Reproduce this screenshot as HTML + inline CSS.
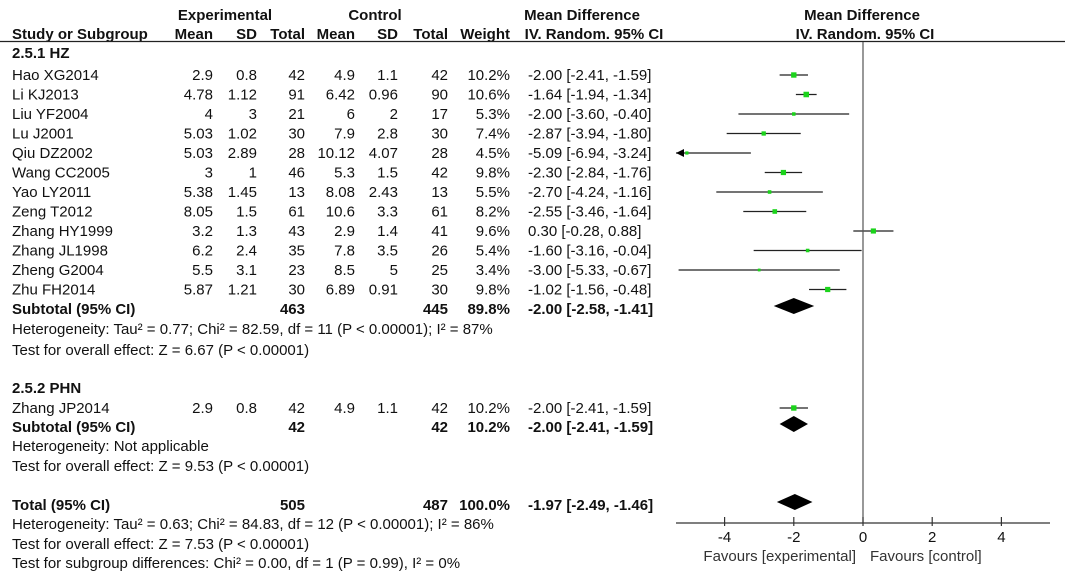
<!DOCTYPE html>
<html><head><meta charset="utf-8"><style>
html,body{margin:0;padding:0;background:#fff;}
svg{display:block;font-family:"Liberation Sans",Arial,sans-serif;font-size:15px;fill:#111;}
.b{font-weight:bold;}
</style></head><body>
<svg id="fp" width="1065" height="573" viewBox="0 0 1065 573">
<g id="hdr">
<text x="225" y="20" text-anchor="middle" class="b">Experimental</text>
<text x="375" y="20" text-anchor="middle" class="b">Control</text>
<text x="582" y="20" text-anchor="middle" class="b">Mean Difference</text>
<text x="862" y="20" text-anchor="middle" class="b">Mean Difference</text>
<text x="12" y="39" class="b">Study or Subgroup</text>
<text x="213" y="39" text-anchor="end" class="b">Mean</text>
<text x="257" y="39" text-anchor="end" class="b">SD</text>
<text x="305" y="39" text-anchor="end" class="b">Total</text>
<text x="355" y="39" text-anchor="end" class="b">Mean</text>
<text x="398" y="39" text-anchor="end" class="b">SD</text>
<text x="448" y="39" text-anchor="end" class="b">Total</text>
<text x="510" y="39" text-anchor="end" class="b">Weight</text>
<text x="594" y="39" text-anchor="middle" class="b">IV. Random. 95% CI</text>
<text x="865" y="39" text-anchor="middle" class="b">IV. Random. 95% CI</text>
<line x1="0" y1="41.5" x2="1065" y2="41.5" stroke="#222" stroke-width="1.3"/>
</g>
<g id="tbl"></g>
<g id="plot"></g>
</svg>
<script>
const studies=["Hao XG2014","Li KJ2013","Liu YF2004","Lu J2001","Qiu DZ2002","Wang CC2005","Yao LY2011","Zeng T2012","Zhang HY1999","Zhang JL1998","Zheng G2004","Zhu FH2014","Zhang JP2014"];
const expMean=["2.9","4.78","4","5.03","5.03","3","5.38","8.05","3.2","6.2","5.5","5.87","2.9"];
const expSD=["0.8","1.12","3","1.02","2.89","1","1.45","1.5","1.3","2.4","3.1","1.21","0.8"];
const expN=["42","91","21","30","28","46","13","61","43","35","23","30","42"];
const ctlMean=["4.9","6.42","6","7.9","10.12","5.3","8.08","10.6","2.9","7.8","8.5","6.89","4.9"];
const ctlSD=["1.1","0.96","2","2.8","4.07","1.5","2.43","3.3","1.4","3.5","5","0.91","1.1"];
const ctlN=["42","90","17","30","28","42","13","61","41","26","25","30","42"];
const weights=[10.2,10.6,5.3,7.4,4.5,9.8,5.5,8.2,9.6,5.4,3.4,9.8,10.2];
const md=[-2.00,-1.64,-2.00,-2.87,-5.09,-2.30,-2.70,-2.55,0.30,-1.60,-3.00,-1.02,-2.00];
const lo=[-2.41,-1.94,-3.60,-3.94,-6.94,-2.84,-4.24,-3.46,-0.28,-3.16,-5.33,-1.56,-2.41];
const hi=[-1.59,-1.34,-0.40,-1.80,-3.24,-1.76,-1.16,-1.64,0.88,-0.04,-0.67,-0.48,-1.59];
const studyY=[75,94.5,114,133.5,153,172.5,192,211.5,231,250.5,270,289.5,408];
const pooledLabels=["Subtotal (95% CI)","Subtotal (95% CI)","Total (95% CI)"];
const pooledExpN=["463","42","505"];
const pooledCtlN=["445","42","487"];
const pooledW=["89.8%","10.2%","100.0%"];
const pooledMD=[-2.00,-2.00,-1.97];
const pooledLo=[-2.58,-2.41,-2.49];
const pooledHi=[-1.41,-1.59,-1.46];
const pooledY=[309,427,505];
const ticks=[-4,-2,0,2,4];
const NS="http://www.w3.org/2000/svg";
const X0=863,SC=34.6,AXL=676,AXR=1050,AXY=523;
const xs=v=>X0+v*SC;
const f2=v=>v.toFixed(2);
function el(tag,attrs,parent,txt){const e=document.createElementNS(NS,tag);for(const k in attrs)e.setAttribute(k,attrs[k]);if(txt!==undefined)e.textContent=txt;parent.appendChild(e);return e;}
const tbl=document.getElementById('tbl'),plot=document.getElementById('plot');
function txt(x,y,s,anchor,bold,name){const t=el('text',{x:x,y:y,'text-anchor':anchor||'start'},tbl,s);if(bold)t.setAttribute('class','b');

return t;}
txt(12,58,"2.5.1 HZ",'start',true,'subgroup-hz-title');
txt(12,393,"2.5.2 PHN",'start',true,'subgroup-phn-title');
const cols=[213,257,305,355,398,448,510];
studies.forEach((s,i)=>{
 const y=studyY[i]+5;
 txt(12,y,s,'start',false,'study-name');
 [expMean[i],expSD[i],expN[i],ctlMean[i],ctlSD[i],ctlN[i],weights[i].toFixed(1)+'%'].forEach((v,j)=>txt(cols[j],y,v,'end',false,'study-value'));
 txt(528,y,f2(md[i])+" ["+f2(lo[i])+", "+f2(hi[i])+"]",'start',false,'study-ci');
 const cy=studyY[i];
 const l=Math.max(xs(lo[i]),AXL), r=Math.min(xs(hi[i]),AXR);
 const ln=el('line',{x1:l,y1:cy,x2:r,y2:cy,stroke:'#222','stroke-width':1.2},plot);
 
 
 if(xs(lo[i])<AXL){const a=el('polygon',{points:`${AXL},${cy} ${AXL+8},${cy-4} ${AXL+8},${cy+4}`,fill:'#000'},plot);
 
 }
 const sz=1.5+weights[i]*0.38;
 const sq=el('rect',{x:xs(md[i])-sz/2,y:cy-sz/2,width:sz,height:sz,fill:'#1bd31b'},plot);
 
 
});
pooledLabels.forEach((s,i)=>{
 const y=pooledY[i]+5;
 txt(12,y,s,'start',true,'pooled-label');
 txt(305,y,pooledExpN[i],'end',true,'pooled-exp-total');
 txt(448,y,pooledCtlN[i],'end',true,'pooled-ctl-total');
 txt(510,y,pooledW[i],'end',true,'pooled-weight');
 txt(528,y,f2(pooledMD[i])+" ["+f2(pooledLo[i])+", "+f2(pooledHi[i])+"]",'start',true,'pooled-ci');
 const cy=pooledY[i]-3;
 const d=el('polygon',{points:`${xs(pooledLo[i])},${cy} ${xs(pooledMD[i])},${cy-8} ${xs(pooledHi[i])},${cy} ${xs(pooledMD[i])},${cy+8}`,fill:'#000'},plot);
 
 
});
const notes=[[334,"Heterogeneity: Tau² = 0.77; Chi² = 82.59, df = 11 (P < 0.00001); I² = 87%"],[355,"Test for overall effect: Z = 6.67 (P < 0.00001)"],[451,"Heterogeneity: Not applicable"],[471,"Test for overall effect: Z = 9.53 (P < 0.00001)"],[529,"Heterogeneity: Tau² = 0.63; Chi² = 84.83, df = 12 (P < 0.00001); I² = 86%"],[549,"Test for overall effect: Z = 7.53 (P < 0.00001)"],[568,"Test for subgroup differences: Chi² = 0.00, df = 1 (P = 0.99), I² = 0%"]];
notes.forEach(n=>txt(12,n[0],n[1],'start',false,'note-text'));
const zl=el('line',{x1:X0,y1:42,x2:X0,y2:AXY,stroke:'#555','stroke-width':1.2},plot);


const ax=el('line',{x1:AXL,y1:AXY,x2:AXR,y2:AXY,stroke:'#333','stroke-width':1.2},plot);


ticks.forEach(t=>{
 const tk=el('line',{x1:xs(t),y1:AXY-6,x2:xs(t),y2:AXY+3,stroke:'#333','stroke-width':1.2},plot);
 
 
 const tl=el('text',{x:xs(t),y:AXY+19,'text-anchor':'middle'},plot,String(t));
 
 
});
const fe=el('text',{x:X0-7,y:AXY+38,'text-anchor':'end',fill:'#333'},plot,"Favours [experimental]");


const fc=el('text',{x:X0+7,y:AXY+38,'text-anchor':'start',fill:'#333'},plot,"Favours [control]");


</script>
</body></html>
